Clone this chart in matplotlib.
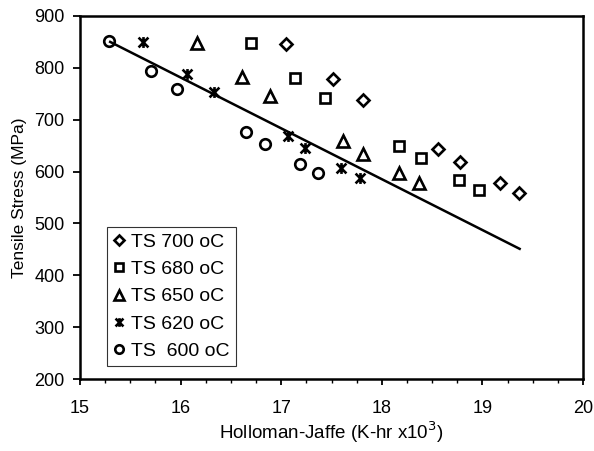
import matplotlib
matplotlib.use("Agg")
import matplotlib.pyplot as plt
from matplotlib.path import Path
from matplotlib.ticker import MultipleLocator

plt.rcParams["font.family"] = ["Liberation Sans", "DejaVu Sans"]

# ---- data ----
hj_700 = [17.05, 17.51, 17.81, 18.56, 18.78, 19.17, 19.36]
ts_700 = [846, 778, 738, 643, 618, 577, 558]

hj_680 = [16.70, 17.14, 17.44, 18.17, 18.39, 18.77, 18.97]
ts_680 = [847, 781, 742, 650, 626, 584, 565]

hj_650 = [16.16, 16.61, 16.89, 17.61, 17.81, 18.17, 18.37]
ts_650 = [848, 783, 746, 658, 634, 597, 577]

hj_620 = [15.63, 16.06, 16.33, 17.07, 17.24, 17.59, 17.78]
ts_620 = [850, 789, 753, 668, 646, 607, 587]

hj_600 = [15.29, 15.71, 15.96, 16.65, 16.84, 17.19, 17.37]
ts_600 = [851, 794, 759, 676, 653, 615, 597]

fit_hj = [15.30, 19.37]
fit_ts = [850, 451]

# asterisk marker: X with a vertical stroke
star = Path(
    [(-1, -1), (1, 1), (-1, 1), (1, -1), (0, -1.1), (0, 1.1)],
    [Path.MOVETO, Path.LINETO, Path.MOVETO, Path.LINETO, Path.MOVETO, Path.LINETO],
)

fig = plt.figure(figsize=(5.94, 4.51), dpi=100)
ax = fig.add_axes([0.1347, 0.1596, 0.8468, 0.805])

mk = dict(linestyle="none", markerfacecolor="white", markeredgecolor="black",
          markeredgewidth=1.9, color="black")
ax.plot(hj_700, ts_700, marker="D", markersize=6.3, label="TS 700 oC", **mk)
ax.plot(hj_680, ts_680, marker="s", markersize=7.2, label="TS 680 oC", **mk)
ax.plot(hj_650, ts_650, marker="^", markersize=8.3, label="TS 650 oC", **mk)
ax.plot(hj_620, ts_620, marker=star, markersize=7.8, label="TS 620 oC", **mk)
ax.plot(hj_600, ts_600, marker="o", markersize=7.6, label="TS  600 oC", **mk)
ax.plot(fit_hj, fit_ts, color="black", linewidth=1.8)

ax.set_xlim(15, 20)
ax.set_ylim(200, 900)
ax.xaxis.set_major_locator(MultipleLocator(1))
ax.xaxis.set_minor_locator(MultipleLocator(0.25))
ax.yaxis.set_major_locator(MultipleLocator(100))
ax.tick_params(axis="both", which="major", direction="out", width=1.3,
               labelsize=13, top=False, right=False)
ax.tick_params(axis="x", which="major", length=4, pad=11)
ax.tick_params(axis="y", which="major", length=5, pad=6)
ax.tick_params(axis="x", which="minor", direction="out", length=3, width=1.0)
for s in ax.spines.values():
    s.set_linewidth(1.8)

ax.set_xlabel("Holloman-Jaffe (K-hr x10$^3$)", fontsize=13.5, labelpad=2)
ax.set_ylabel("Tensile Stress (MPa)", fontsize=12.5, labelpad=5)

leg = ax.legend(loc="lower left", bbox_to_anchor=(0.054, 0.036), fontsize=14,
                frameon=True, fancybox=False, handlelength=0.6, handletextpad=0.35,
                borderpad=0.3, labelspacing=0.5, borderaxespad=0, markerscale=0.8)
leg.get_frame().set_edgecolor("black")
leg.get_frame().set_linewidth(0.8)

fig.savefig("out.png", dpi=100)
